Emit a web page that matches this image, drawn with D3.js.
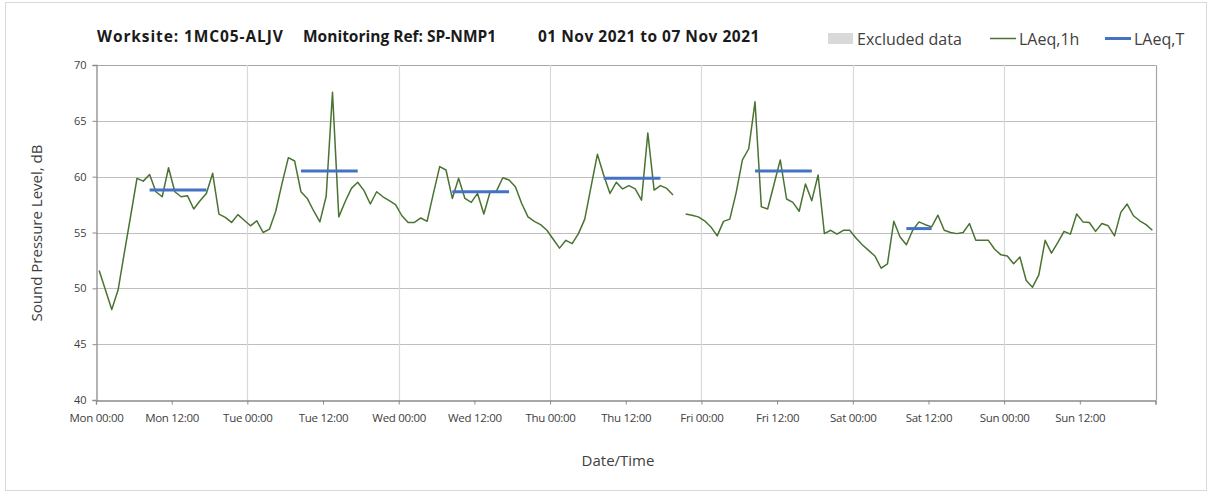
<html lang="en">
<head>
<meta charset="UTF-8">
<title>LAeq chart</title>
<style>
  body { margin: 0; background: #fff; }
  text { font-family: "Open Sans", "Liberation Sans", sans-serif; fill: #404040; }
</style>
</head>
<body>
<svg width="1212" height="493"></svg>
<script src="https://cdnjs.cloudflare.com/ajax/libs/d3/7.8.5/d3.min.js"></script>
<script>
// hourly LAeq,1h values from Mon 01 Nov 2021 00:00, one per hour (null = gap)
var laeq1h = [
  51.6, 49.85, 48.1, 49.85, 53.2, 56.5, 59.85, 59.6, 60.2, 58.65, 58.2, 60.8,
  58.65, 58.2, 58.3, 57.1, 57.85, 58.5, 60.3, 56.65, 56.35, 55.9, 56.6, 56.1,
  55.6, 56.05, 55.0, 55.3, 56.9, 59.4, 61.7, 61.4, 58.65, 58.05, 56.95, 55.95,
  58.25, 67.55, 56.4, 57.75, 58.95, 59.5, 58.75, 57.55, 58.65, 58.2, 57.85, 57.5,
  56.5, 55.9, 55.9, 56.3, 56.0, 58.5, 60.9, 60.6, 58.05, 59.85, 58.05, 57.7,
  58.5, 56.65, 58.65, 58.7, 59.9, 59.7, 59.1, 57.6, 56.4, 56.0, 55.7, 55.2,
  54.4, 53.6, 54.3, 54.0, 54.9, 56.2, 59.1, 62.0, 60.15, 58.5, 59.5, 58.9,
  59.2, 58.9, 57.9, 63.9, 58.8, 59.2, 58.95, 58.35, null, 56.65, 56.55, 56.4,
  56.05, 55.5, 54.7, 56.0, 56.2, 58.55, 61.5, 62.5, 66.7, 57.3, 57.1, 59.3,
  61.5, 58.0, 57.7, 56.9, 59.35, 57.85, 60.15, 54.9, 55.2, 54.85, 55.2, 55.2,
  54.5, 53.9, 53.4, 52.9, 51.8, 52.2, 56.0, 54.6, 53.9, 55.2, 55.95, 55.7,
  55.5, 56.55, 55.2, 55.0, 54.9, 55.0, 55.8, 54.3, 54.3, 54.3, 53.5, 53.0,
  52.9, 52.2, 52.8, 50.7, 50.1, 51.2, 54.3, 53.15, 54.1, 55.1, 54.85, 56.65,
  55.95, 55.9, 55.1, 55.8, 55.6, 54.7, 56.8, 57.55, 56.5, 56.05, 55.7, 55.2
];

// LAeq,T daytime periods (hours from start) and levels
var periodStart = [8.5, 32.5, 56.5, 80.5, 104.5, 128.5];
var periodEnd   = [17.5, 41.5, 65.5, 89.5, 113.5, 132.5];
var laeqT       = [58.8, 60.5, 58.65, 59.85, 60.5, 55.35];

var yTicks = [40, 45, 50, 55, 60, 65, 70];

(function () {
  'use strict';

  var startDate = new Date(2021, 10, 1, 0, 0);
  var endDate = new Date(2021, 10, 8, 0, 0);

  var svg = d3.select("svg");

  var LEFT = 96, RIGHT = 1155.5, TOP = 65, BOTTOM = 400;

  var x = d3.scaleTime().domain([startDate, endDate]).range([LEFT, RIGHT]);
  var y = d3.scaleLinear().domain([40, 70]).range([BOTTOM, TOP]);

  function hourDate(h) { return new Date(startDate.getTime() + h * 3600000); }

  // outer border
  svg.append("rect")
    .attr("x", 5.5).attr("y", 2.5).attr("width", 1201).attr("height", 488)
    .attr("fill", "none").attr("stroke", "#d9d9d9");

  // horizontal gridlines
  svg.append("g").selectAll("line").data(yTicks.slice(1)).enter().append("line")
    .attr("x1", LEFT).attr("x2", RIGHT)
    .attr("y1", function (d) { return Math.round(y(d)) + 0.5; })
    .attr("y2", function (d) { return Math.round(y(d)) + 0.5; })
    .attr("stroke", function (d) { return d == 70 ? "#a6a6a6" : "#bfbfbf"; })
    .attr("stroke-width", 1.2);

  // vertical day gridlines
  var days = d3.timeDay.range(d3.timeDay.offset(startDate, 1), d3.timeDay.offset(endDate, 1));
  svg.append("g").selectAll("line").data(days).enter().append("line")
    .attr("x1", function (d) { return Math.round(x(d)) + 0.5; })
    .attr("x2", function (d) { return Math.round(x(d)) + 0.5; })
    .attr("y1", TOP).attr("y2", BOTTOM)
    .attr("stroke", function (d, i) { return i == days.length - 1 ? "#a6a6a6" : "#d9d9d9"; })
    .attr("stroke-width", 1.2);

  // axes
  var xAxis = d3.axisBottom(x)
    .ticks(d3.timeHour.every(12))
    .tickFormat(function (d) { return d < endDate ? d3.timeFormat("%a %H:%M")(d) : ""; })
    .tickSize(4).tickPadding(9);
  var gx = svg.append("g").attr("transform", "translate(0," + (BOTTOM + 0.5) + ")").call(xAxis);
  gx.select(".domain").attr("stroke", "#8c8c8c").attr("stroke-width", 1.3);
  gx.selectAll(".tick line").attr("stroke", "#8c8c8c");
  gx.selectAll(".tick text").attr("font-size", 11.5).style("font-family", "'Open Sans', sans-serif")
    .attr("letter-spacing", -0.3).style("fill", "#404040");

  var yAxis = d3.axisLeft(y).tickValues(yTicks).tickSize(4).tickPadding(6);
  var gy = svg.append("g").attr("transform", "translate(" + (LEFT + 0.5) + ",0)").call(yAxis);
  gy.select(".domain").attr("stroke", "#8c8c8c").attr("stroke-width", 1.3);
  gy.selectAll(".tick line").attr("stroke", "#8c8c8c");
  gy.selectAll(".tick text").attr("font-size", 11).style("font-family", "'Open Sans', sans-serif")
    .style("fill", "#404040");

  // LAeq,1h line
  var line = d3.line()
    .defined(function (d) { return d != null; })
    .x(function (d, i) { return x(hourDate(i + 0.5)); })
    .y(function (d) { return y(d); });

  svg.append("path").datum(laeq1h)
    .attr("d", line)
    .attr("fill", "none")
    .attr("stroke", "#4a7332")
    .attr("stroke-width", 1.5)
    .attr("stroke-linejoin", "round");

  // LAeq,T segments
  svg.append("g").selectAll("line").data(laeqT).enter().append("line")
    .attr("x1", function (d, i) { return x(hourDate(periodStart[i])); })
    .attr("x2", function (d, i) { return x(hourDate(periodEnd[i])); })
    .attr("y1", function (d) { return y(d); })
    .attr("y2", function (d) { return y(d); })
    .attr("stroke", "#4472c4")
    .attr("stroke-width", 3);

  // title
  var title = svg.append("text").attr("y", 42).attr("font-size", 15.5).attr("font-weight", 700)
    .style("fill", "#1a1a1a");
  title.append("tspan").attr("x", 97).attr("letter-spacing", 0.9).text("Worksite: 1MC05-ALJV");
  title.append("tspan").attr("x", 303).text("Monitoring Ref: SP-NMP1");
  title.append("tspan").attr("x", 538).attr("letter-spacing", 0.5).text("01 Nov 2021 to 07 Nov 2021");

  // legend
  var lg = svg.append("g").attr("font-size", 16);
  lg.append("rect").attr("x", 828).attr("y", 33).attr("width", 25).attr("height", 11).attr("fill", "#d9d9d9");
  lg.append("text").attr("x", 857).attr("y", 45).text("Excluded data");
  lg.append("line").attr("x1", 990).attr("x2", 1016).attr("y1", 38.5).attr("y2", 38.5)
    .attr("stroke", "#4a7332").attr("stroke-width", 1.5);
  lg.append("text").attr("x", 1019).attr("y", 45).text("LAeq,1h");
  lg.append("line").attr("x1", 1105).attr("x2", 1131).attr("y1", 38.5).attr("y2", 38.5)
    .attr("stroke", "#4472c4").attr("stroke-width", 3);
  lg.append("text").attr("x", 1134).attr("y", 45).text("LAeq,T");

  // axis titles
  svg.append("text").attr("x", 618).attr("y", 466).attr("text-anchor", "middle")
    .attr("font-size", 15).text("Date/Time");
  svg.append("text").attr("transform", "translate(42,233) rotate(-90)").attr("text-anchor", "middle")
    .attr("font-size", 15).text("Sound Pressure Level, dB");
})();
</script>
</body>
</html>
